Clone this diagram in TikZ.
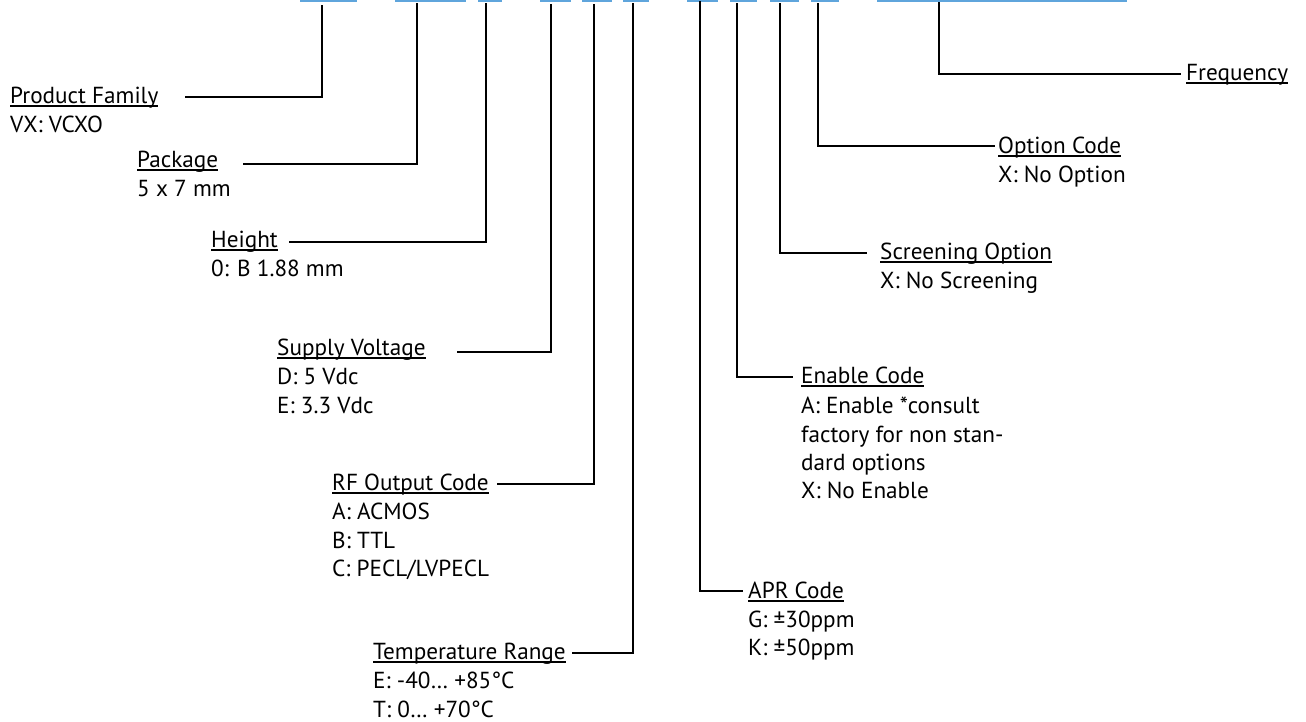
\documentclass[tikz,border=0pt]{standalone}
\usepackage{fontspec}
\setmainfont{PT Sans}
\newlength{\ulwidth}
\newcommand{\myul}[1]{\settowidth{\ulwidth}{#1}\rlap{\rule[-3.6pt]{\ulwidth}{1.3pt}}#1}
\definecolor{partblue}{RGB}{95,165,220}
\begin{document}
\begin{tikzpicture}[x=1pt,y=-1pt,
  conn/.style={line width=2.9pt, line cap=rect, line join=miter},
  lbl/.style={anchor=base west, inner sep=0pt, font=\fontsize{23.2}{27}\selectfont},
  bar/.style={fill=partblue, draw=none}]
\useasboundingbox (0,0) rectangle (1306,721);
\fill[white] (0,0) rectangle (1306,721);
% part-number field underlines at the top edge
\foreach \a/\b in {300/357,395/466,478/502,540/571,582/612,623/649,687/718,730/757,770/799,811/839,877/1127}
  \fill[bar] (\a,0) rectangle (\b,1.8);
% tops of the leader lines
\coordinate (pftop) at (322,6);
\coordinate (pktop) at (417,4);
\coordinate (httop) at (486,4);
\coordinate (svtop) at (551,5);
\coordinate (rftop) at (594,5);
\coordinate (trtop) at (633,4);
\coordinate (aptop) at (700,2);
\coordinate (entop) at (737,4);
\coordinate (sctop) at (780,4);
\coordinate (octop) at (818,4);
\coordinate (frtop) at (939,3);
% free ends of the leader lines
\coordinate (pfend) at (186,97);
\coordinate (pkend) at (244,164);
\coordinate (htend) at (290,242);
\coordinate (svend) at (458,352);
\coordinate (rfend) at (498,484);
\coordinate (trend) at (573,653);
\coordinate (apend) at (742,591);
\coordinate (enend) at (792,377);
\coordinate (scend) at (866,253);
\coordinate (ocend) at (994,146);
\coordinate (frend) at (1180,74);
% labels
\node[lbl] (pf) at (10,103) {\myul{Product Family}};
\node[lbl] (pf1) at (10,132) {VX: VCXO};
\node[lbl] (pk) at (137,167) {\myul{Package}};
\node[lbl] (pk1) at (137,196) {5 x 7 mm};
\node[lbl] (ht) at (211,247) {\myul{Height}};
\node[lbl] (ht1) at (211,276) {0: B 1.88 mm};
\node[lbl] (sv) at (277,355) {\myul{Supply Voltage}};
\node[lbl] (sv1) at (277,384) {D: 5 Vdc};
\node[lbl] (sv2) at (277,413) {E: 3.3 Vdc};
\node[lbl] (rf) at (332,490) {\myul{RF Output Code}};
\node[lbl] (rf1) at (332,519) {A: ACMOS};
\node[lbl] (rf2) at (332,548) {B: TTL};
\node[lbl] (rf3) at (332,576) {C: PECL/LVPECL};
\node[lbl] (tr) at (373,659) {\myul{Temperature Range}};
\node[lbl] (tr1) at (373,688) {E: -40… +85°C};
\node[lbl] (tr2) at (373,717) {T: 0… +70°C};
\node[lbl] (ap) at (748,598) {\myul{APR Code}};
\node[lbl] (ap1) at (748,627) {G: ±30ppm};
\node[lbl] (ap2) at (748,655) {K: ±50ppm};
\node[lbl] (en) at (801,383) {\myul{Enable Code}};
\node[lbl] (en1) at (801,413) {A: Enable *consult};
\node[lbl] (en2) at (801,442) {factory for non stan-};
\node[lbl] (en3) at (801,470) {dard options};
\node[lbl] (en4) at (801,498) {X: No Enable};
\node[lbl] (sc) at (880,259) {\myul{Screening Option}};
\node[lbl] (sc1) at (880,288) {X: No Screening};
\node[lbl] (oc) at (998,153) {\myul{Option Code}};
\node[lbl] (oc1) at (998,182) {X: No Option};
\node[lbl] (fr) at (1186,80) {\myul{Frequency}};
% leader lines
\foreach \k in {pf,pk,ht,sv,rf,tr,ap,en,sc,oc,fr}
  \draw[conn] (\k top) |- (\k end);
\end{tikzpicture}
\end{document}
